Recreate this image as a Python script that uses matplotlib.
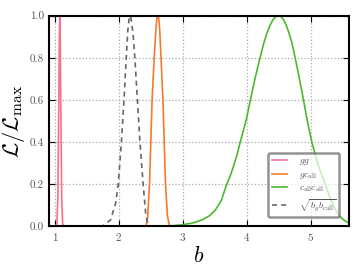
import matplotlib
matplotlib.use("Agg")
import matplotlib.pyplot as plt

plt.rcParams['mathtext.fontset'] = 'cm'
plt.rcParams['font.family'] = ['cmr10', 'DejaVu Serif']
plt.rcParams['axes.formatter.use_mathtext'] = True

# likelihood curves: (b, L/Lmax)
b_gg = [1.00, 1.03, 1.045, 1.06, 1.068, 1.075, 1.082, 1.09, 1.105, 1.12, 1.15]
L_gg = [0.0, 0.011, 0.135, 0.6, 0.9, 1.0, 0.9, 0.6, 0.135, 0.011, 0.0]

b_gc = [2.40, 2.43, 2.45, 2.48, 2.50, 2.52, 2.553, 2.58, 2.595, 2.61, 2.625,
        2.64, 2.66, 2.69, 2.71, 2.73, 2.76, 2.79, 2.82]
L_gc = [0.0, 0.005, 0.04, 0.2, 0.4, 0.6, 0.8, 0.94, 0.985, 1.0, 0.985,
        0.93, 0.8, 0.6, 0.4, 0.2, 0.05, 0.005, 0.0]

b_cc = [2.75, 2.96, 3.15, 3.30, 3.42, 3.51, 3.60, 3.69, 3.75, 3.80, 3.85,
        3.90, 3.99, 4.06, 4.13, 4.21, 4.26, 4.31, 4.36, 4.41, 4.46, 4.50,
        4.54, 4.58, 4.62, 4.66, 4.71, 4.76, 4.82, 4.89, 4.95, 5.02, 5.12,
        5.23, 5.30, 5.37, 5.45, 5.52, 5.60]
L_cc = [0.0, 0.006, 0.015, 0.03, 0.05, 0.077, 0.12, 0.2, 0.245, 0.29, 0.34,
        0.4, 0.5, 0.6, 0.7, 0.8, 0.86, 0.91, 0.95, 0.98, 0.997, 1.0,
        0.995, 0.98, 0.955, 0.92, 0.87, 0.8, 0.71, 0.6, 0.5, 0.4, 0.29,
        0.2, 0.14, 0.09, 0.05, 0.03, 0.015]

b_geo = [1.70, 1.74, 1.87, 1.95, 1.99, 2.04, 2.08, 2.116, 2.14, 2.16, 2.18,
         2.20, 2.225, 2.25, 2.29, 2.33, 2.38, 2.42, 2.46]
L_geo = [0.0, 0.0, 0.03, 0.11, 0.2, 0.4, 0.6, 0.8, 0.93, 0.985, 1.0,
         0.97, 0.9, 0.8, 0.6, 0.4, 0.2, 0.06, 0.0]

labels = [r'$gg$', r'$gc_{\rm all}$', r'$c_{\rm all}c_{\rm all}$',
          r'$\sqrt{b_g b_{\rm call}}$']

fig = plt.figure(figsize=(3.6, 2.7), dpi=100)
ax = fig.add_axes([0.135, 0.162, 0.834, 0.78])

ax.plot(b_gg, L_gg, color='#f4728f', lw=1.2, label=labels[0])
ax.plot(b_gc, L_gc, color='#f37a2e', lw=1.2, label=labels[1])
ax.plot(b_cc, L_cc, color='#4db82f', lw=1.2, label=labels[2])
ax.plot(b_geo, L_geo, color='#666666', lw=1.2, ls=(0, (3, 2.5)),
        label=labels[3])

ax.set_xlim(0.9, 5.6)
ax.set_ylim(0.0, 1.0)
ax.set_xticks([1, 2, 3, 4, 5])
ax.set_yticks([0.0, 0.2, 0.4, 0.6, 0.8, 1.0])
ax.set_yticklabels(['0.0', '0.2', '0.4', '0.6', '0.8', '1.0'])
ax.grid(True, ls=':', color='#aaaaaa', lw=0.9)
ax.tick_params(direction='in', top=True, right=True, labelsize=8,
               labelcolor='#555555', length=4, width=0.8)
for s in ax.spines.values():
    s.set_linewidth(1.5)

ax.set_xlabel(r'$b$', fontsize=16, labelpad=2)
ax.set_ylabel(r'$\mathcal{L}/\mathcal{L}_{\rm max}$', fontsize=16, labelpad=2)

leg = ax.legend(loc='lower right', fontsize=7, handlelength=1.6,
                handletextpad=1.2, borderpad=0.35, labelspacing=0.3,
                fancybox=True, framealpha=0.7, bbox_to_anchor=(0.985, 0.02))
leg.get_frame().set_edgecolor('#666666')
leg.get_frame().set_linewidth(1.8)
for t in leg.get_texts():
    t.set_color('#555555')

fig.savefig('out.png', dpi=100)
